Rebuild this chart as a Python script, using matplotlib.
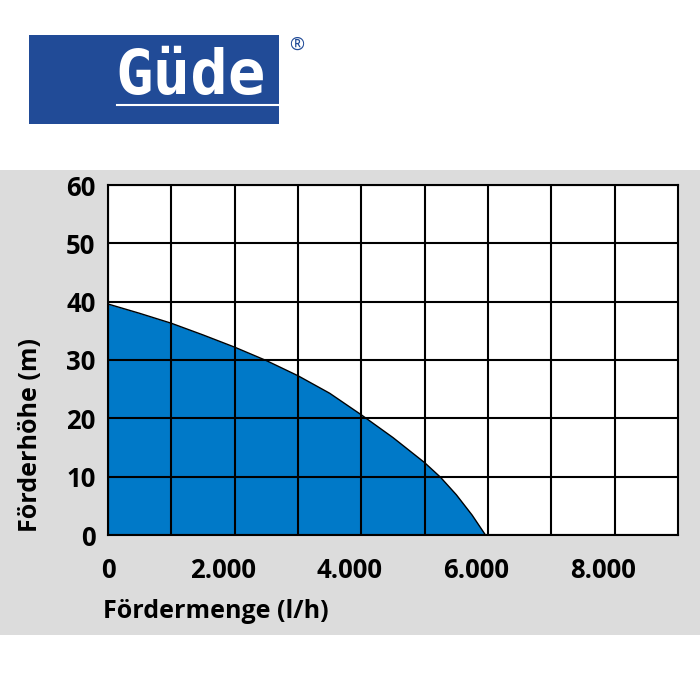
import matplotlib
matplotlib.use("Agg")
import matplotlib.pyplot as plt
import matplotlib.transforms as mtransforms
from matplotlib.patches import Rectangle
from matplotlib.lines import Line2D

# ---- data ----
flow_lh = [0, 500, 1000, 1500, 2000, 2500, 3000, 3500, 4000, 4500, 5000, 5250, 5500, 5750, 5960]
head_m = [39.6, 38.0, 36.3, 34.3, 32.2, 29.9, 27.3, 24.3, 20.6, 16.7, 12.4, 9.9, 6.9, 3.4, 0.0]
x_ticks = [0, 2000, 4000, 6000, 8000]
x_tick_labels = ["0", "2.000", "4.000", "6.000", "8.000"]
y_ticks = [0, 10, 20, 30, 40, 50, 60]
y_tick_labels = ["0", "10", "20", "30", "40", "50", "60"]
x_title = "Fördermenge (l/h)"
y_title = "Förderhöhe (m)"
brand = "Güde"

W, H = 700, 700
fig = plt.figure(figsize=(7, 7), dpi=100)
fig.patch.set_facecolor("white")

def fx(px):
    return px / W

def fy(py):
    return 1 - py / H

FONT = ["Open Sans", "DejaVu Sans"]

# grey panel
fig.patches.append(Rectangle((0, fy(635)), 1, (635 - 170) / H, transform=fig.transFigure,
                             facecolor="#dcdcdc", edgecolor="none", zorder=-2))

# logo
fig.patches.append(Rectangle((fx(29), fy(124)), (279 - 29) / W, (124 - 35) / H,
                             transform=fig.transFigure, facecolor="#214b97",
                             edgecolor="none", zorder=1))
fig.text(fx(191), fy(77), brand, color="white", fontsize=45, fontweight="bold",
         family=["DejaVu Sans Mono", "DejaVu Sans"], ha="center", va="center", zorder=2)
fig.lines.append(Line2D([fx(117), fx(279)], [fy(105), fy(105)], transform=fig.transFigure,
                        color="white", lw=1.5, zorder=2))
fig.text(fx(297), fy(45), "®", color="#214b97", fontsize=13, family=FONT,
         ha="center", va="center")

# chart
ax = fig.add_axes([fx(108), fy(535), 570 / W, 350 / H])
ax.set_zorder(1)
ax.set_facecolor("white")
ax.set_xlim(0, 9000)
ax.set_ylim(0, 60)
ax.fill_between(flow_lh, head_m, 0, color="#0079c8", linewidth=0, zorder=1)
ax.plot(flow_lh, head_m, color="black", lw=1.0, zorder=2, solid_joinstyle="round")

ax.set_xticks(x_ticks)
ax.set_xticklabels(x_tick_labels)
ax.set_xticks(range(1000, 9000, 2000), minor=True)
ax.set_yticks(y_ticks)
ax.set_yticklabels(y_tick_labels)
ax.set_axisbelow(False)
ax.grid(True, which="both", color="black", lw=1.5)
ax.tick_params(which="both", length=0)
ax.tick_params(axis="y", pad=9, labelsize=18.5)
ax.tick_params(axis="x", pad=16, labelsize=18.5)
for lab in ax.get_xticklabels() + ax.get_yticklabels():
    lab.set_fontweight("bold")
    lab.set_family(FONT)
for i, lab in enumerate(ax.get_xticklabels()):
    if i > 0:
        off = mtransforms.ScaledTranslation(-12 / 100, 0, fig.dpi_scale_trans)
        lab.set_transform(lab.get_transform() + off)
for s in ax.spines.values():
    s.set_color("black")
    s.set_linewidth(1.5)

fig.text(fx(103), fy(612), x_title, fontsize=18, fontweight="bold", family=FONT,
         ha="left", va="center")
fig.text(fx(31), fy(435), y_title, fontsize=18, fontweight="bold", family=FONT,
         ha="center", va="center", rotation=90)

fig.savefig("out.png", dpi=100)
